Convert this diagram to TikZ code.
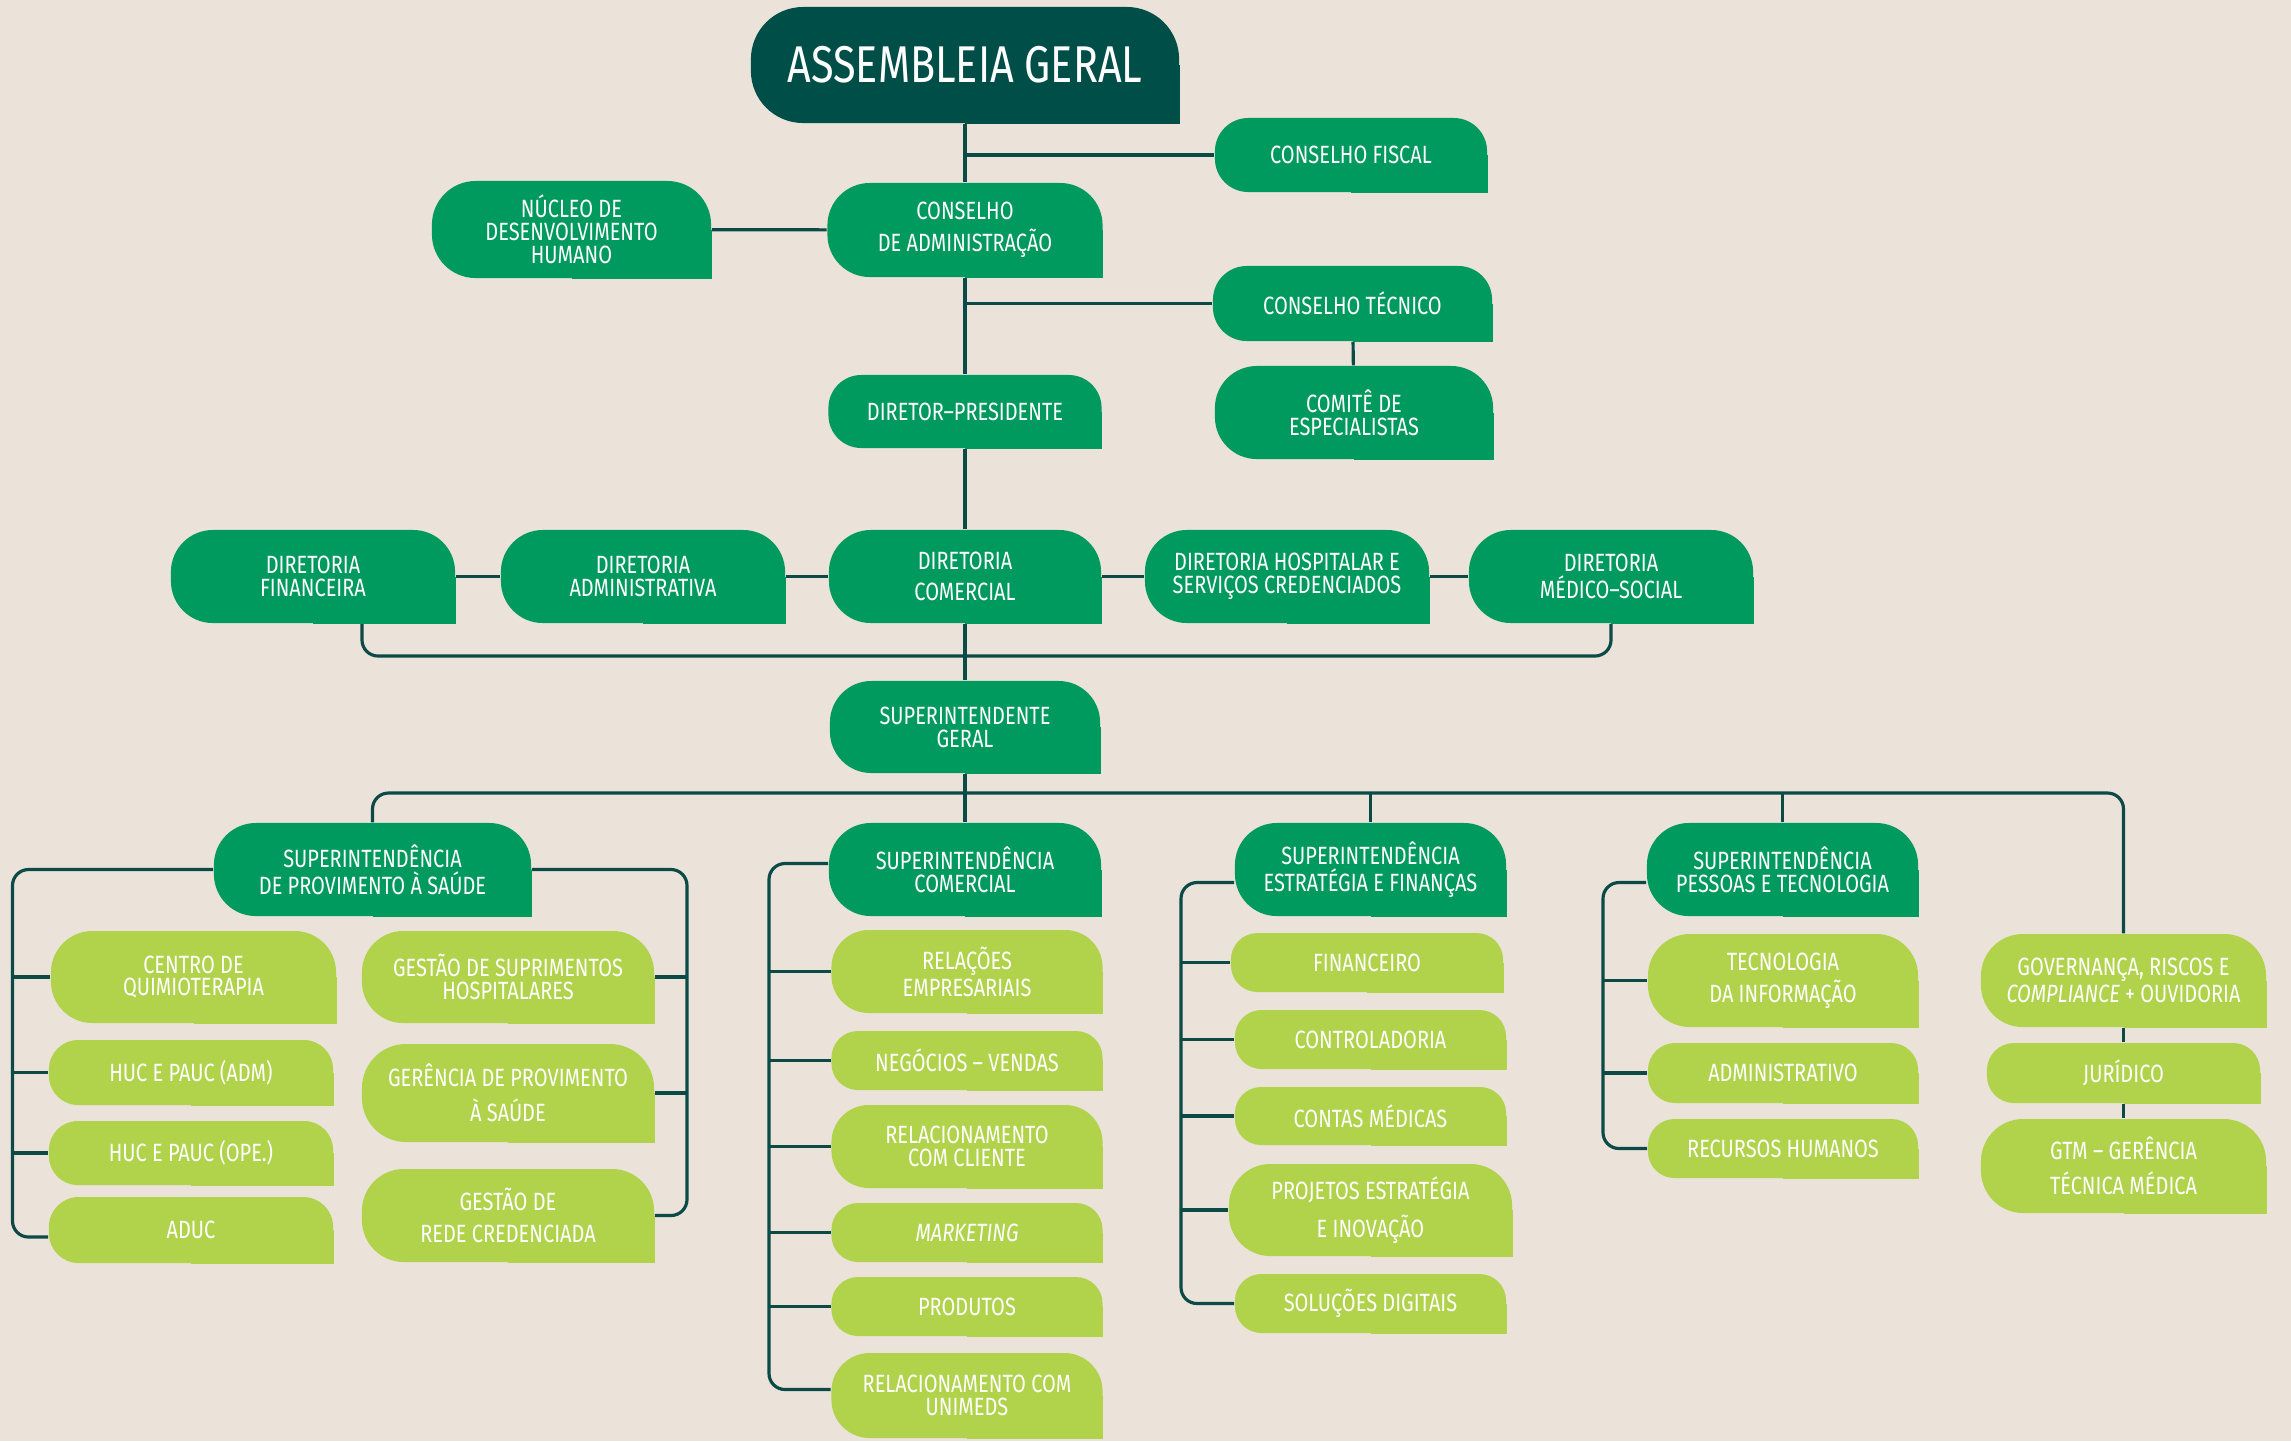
\documentclass[tikz,border=0pt]{standalone}
\usepackage{fontspec}
\setmainfont{Fira Sans}[FakeStretch=0.8]
\usepackage{tikz}
\usetikzlibrary{backgrounds}

\definecolor{bgbeige}{RGB}{235,227,217}
\definecolor{agteal}{RGB}{0,78,72}
\definecolor{midgreen}{RGB}{0,153,94}
\definecolor{lightgreen}{RGB}{177,211,76}
\definecolor{linkteal}{RGB}{12,74,72}

\begin{document}
\begin{tikzpicture}[x=0.01cm, y=-0.01cm,
    orgbox/.style={text=white, align=center, inner sep=0pt, minimum width=2.75cm, font=\fontsize{7.1}{6.5}\selectfont},
    ht/.style={minimum height=#1, rounded corners=0.45*#1},
    wd/.style={minimum width=#1},
    dbox/.style={orgbox, fill=agteal},
    mbox/.style={orgbox, fill=midgreen},
    lbox/.style={orgbox, fill=lightgreen},
    link/.style={draw=linkteal, line width=0.9pt},
    elbow/.style={rounded corners=0.16cm}
]
% top
\node[dbox, wd=4.28cm, ht=1.16cm, font=\fontsize{14.7}{14}\selectfont] (ag) at (965,65) {ASSEMBLEIA GERAL};
\node[mbox, wd=2.72cm, ht=0.74cm] (cf) at (1351,155) {CONSELHO FISCAL};
\node[mbox, wd=2.79cm, ht=0.97cm] (ndh) at (571.5,229.5) {NÚCLEO DE\\DESENVOLVIMENTO\\HUMANO};
\node[mbox, ht=0.94cm] (ca) at (965,230) {CONSELHO\\[2.5pt]DE ADMINISTRAÇÃO};
\node[mbox, wd=2.79cm, ht=0.75cm] (ct) at (1352.5,303.5) {CONSELHO TÉCNICO};
\node[mbox, wd=2.78cm, ht=0.93cm] (ce) at (1354,412.5) {COMITÊ DE\\ESPECIALISTAS};
\node[mbox, wd=2.73cm, ht=0.73cm] (dp) at (965,411.5) {DIRETOR--PRESIDENTE};

% diretorias
\node[mbox, wd=2.84cm, ht=0.93cm] (df) at (313,576.5) {DIRETORIA\\FINANCEIRA};
\node[mbox, wd=2.84cm, ht=0.93cm] (da) at (643,576.5) {DIRETORIA\\ADMINISTRATIVA};
\node[mbox, wd=2.72cm, ht=0.93cm] (dc) at (965,576.5) {DIRETORIA\\[2.5pt]COMERCIAL};
\node[mbox, wd=2.84cm, ht=0.93cm] (dh) at (1287,576.5) {DIRETORIA HOSPITALAR E\\SERVIÇOS CREDENCIADOS};
\node[mbox, wd=2.84cm, ht=0.93cm] (dm) at (1611,576.5) {DIRETORIA\\MÉDICO--SOCIAL};

\node[mbox, wd=2.70cm, ht=0.92cm] (sg) at (965,727) {SUPERINTENDENTE\\GERAL};

% superintendencias
\node[mbox, wd=3.17cm, ht=0.93cm] (sps) at (372.5,869.5) {SUPERINTENDÊNCIA\\DE PROVIMENTO À SAÚDE};
\node[mbox, wd=2.72cm, ht=0.93cm] (sc) at (965,869.5) {SUPERINTENDÊNCIA\\COMERCIAL};
\node[mbox, wd=2.71cm, ht=0.93cm] (sef) at (1370.5,869.5) {SUPERINTENDÊNCIA\\ESTRATÉGIA E FINANÇAS};
\node[mbox, wd=2.71cm, ht=0.93cm] (spt) at (1782.5,869.5) {SUPERINTENDÊNCIA\\PESSOAS E TECNOLOGIA};

% provimento a saude
\node[lbox, wd=2.85cm, ht=0.92cm] (cq) at (193.5,977) {CENTRO DE\\QUIMIOTERAPIA};
\node[lbox, wd=2.84cm, ht=0.65cm] (hadm) at (191,1072.5) {HUC E PAUC (ADM)};
\node[lbox, wd=2.84cm, ht=0.64cm] (hope) at (191,1153) {HUC E PAUC (OPE.)};
\node[lbox, wd=2.84cm, ht=0.66cm] (aduc) at (191,1230) {ADUC};
\node[lbox, wd=2.92cm, ht=0.92cm] (gsh) at (508,977) {GESTÃO DE SUPRIMENTOS\\HOSPITALARES};
\node[lbox, wd=2.92cm, ht=0.98cm] (gps) at (508,1093) {GERÊNCIA DE PROVIMENTO\\[2.5pt]À SAÚDE};
\node[lbox, wd=2.92cm, ht=0.93cm] (grc) at (508,1215.5) {GESTÃO DE\\[2.5pt]REDE CREDENCIADA};

% comercial
\node[lbox, wd=2.71cm, ht=0.83cm] (re) at (967,971.5) {RELAÇÕES\\EMPRESARIAIS};
\node[lbox, wd=2.71cm, ht=0.59cm] (nv) at (967,1060.5) {NEGÓCIOS -- VENDAS};
\node[lbox, wd=2.71cm, ht=0.83cm] (rcc) at (967,1146.5) {RELACIONAMENTO\\COM CLIENTE};
\node[lbox, wd=2.71cm, ht=0.59cm] (mkt) at (967,1232.5) {\textit{MARKETING}};
\node[lbox, wd=2.71cm, ht=0.59cm] (prod) at (967,1306.5) {PRODUTOS};
\node[lbox, wd=2.71cm, ht=0.85cm] (ru) at (967,1395.5) {RELACIONAMENTO COM\\UNIMEDS};

% estrategia e financas
\node[lbox, wd=2.72cm, ht=0.59cm] (fin) at (1367,962.5) {FINANCEIRO};
\node[lbox, wd=2.71cm, ht=0.59cm] (ctrl) at (1370.5,1039.5) {CONTROLADORIA};
\node[lbox, wd=2.71cm, ht=0.58cm] (cm) at (1370.5,1116) {CONTAS MÉDICAS};
\node[lbox, wd=2.83cm, ht=0.92cm] (pei) at (1370.5,1210) {PROJETOS ESTRATÉGIA\\[2.5pt]E INOVAÇÃO};
\node[lbox, wd=2.71cm, ht=0.59cm] (sd) at (1370.5,1303.5) {SOLUÇÕES DIGITAIS};

% pessoas e tecnologia
\node[lbox, wd=2.70cm, ht=0.93cm] (ti) at (1783,980.5) {TECNOLOGIA\\[2.5pt]DA INFORMAÇÃO};
\node[lbox, wd=2.70cm, ht=0.60cm] (adm) at (1783,1073) {ADMINISTRATIVO};
\node[lbox, wd=2.70cm, ht=0.59cm] (rh) at (1783,1148.5) {RECURSOS HUMANOS};

% governanca
\node[lbox, wd=2.85cm, ht=0.93cm] (gov) at (2123.5,980.5) {GOVERNANÇA, RISCOS E\\\textit{COMPLIANCE} + OUVIDORIA};
\node[lbox, wd=2.73cm, ht=0.60cm] (jur) at (2123.5,1073) {JURÍDICO};
\node[lbox, wd=2.85cm, ht=0.94cm] (gtm) at (2123.5,1166) {GTM -- GERÊNCIA\\[2.5pt]TÉCNICA MÉDICA};

\coordinate (dfdrop) at (362,656);
\coordinate (bus) at (965,793);
\coordinate (sl) at (12.5,0);
\coordinate (sr) at (687,0);
\coordinate (scl) at (769,0);
\coordinate (sefl) at (1181,0);
\coordinate (sptl) at (1603,0);

\begin{scope}[on background layer]
\fill[bgbeige] (0,0) rectangle (2291,1441);

% links
\draw[link] (ag) -- (ca) -- (dp) -- (dc) -- (sg) -- (sc);
\draw[link] (cf.west) -- (cf.west -| ag.south);
\draw[link] (ct.west) -- (ct.west -| ca.south);
\draw[link] (ndh) -- (ca);
\draw[link] (ct) -- (ce);
\draw[link] (df) -- (da) -- (dc) -- (dh) -- (dm);
\draw[link, elbow] (dfdrop |- df.south) -- (dfdrop) -| (dm.south);
\draw[link, elbow] (sps.north) |- (bus) -| (gov.north);
\draw[link] (sef.north) -- (sef.north |- bus);
\draw[link] (spt.north) -- (spt.north |- bus);

\draw[link, elbow] (sps.west) -- (sps.west -| sl) |- ([yshift=-0.07cm]aduc.west);
\foreach \k in {cq, hadm, hope}
    \draw[link] (\k.west) -- (\k.west -| sl);
\draw[link, elbow] (sps.east) -- (sps.east -| sr) |- (grc.east);
\foreach \k in {gsh, gps}
    \draw[link] (\k.east) -- (\k.east -| sr);

\draw[link, elbow] ([yshift=0.06cm]sc.west) -- ([yshift=0.06cm]sc.west -| scl) |- ([yshift=0.06cm]ru.west);
\foreach \k in {re, nv, rcc, mkt, prod}
    \draw[link] (\k.west) -- (\k.west -| scl);

\draw[link, elbow] ([yshift=-0.13cm]sef.west) -- ([yshift=-0.13cm]sef.west -| sefl) |- (sd.west);
\foreach \k in {fin, ctrl, cm, pei}
    \draw[link] (\k.west) -- (\k.west -| sefl);

\draw[link, elbow] ([yshift=-0.13cm]spt.west) -- ([yshift=-0.13cm]spt.west -| sptl) |- (rh.west);
\foreach \k in {ti, adm}
    \draw[link] (\k.west) -- (\k.west -| sptl);

\draw[link] (gov) -- (jur) -- (gtm);

% square bottom right corners
\fill[agteal] (ag.center) rectangle (ag.south east);
\foreach \nm in {cf, ndh, ca, ct, ce, dp, df, da, dc, dh, dm, sg, sps, sc, sef, spt}
    \fill[midgreen] (\nm.center) rectangle (\nm.south east);
\foreach \nm in {cq, hadm, hope, aduc, gsh, gps, grc, re, nv, rcc, mkt, prod, ru, fin, ctrl, cm, pei, sd, ti, adm, rh, gov, jur, gtm}
    \fill[lightgreen] (\nm.center) rectangle (\nm.south east);
\end{scope}
\end{tikzpicture}
\end{document}
